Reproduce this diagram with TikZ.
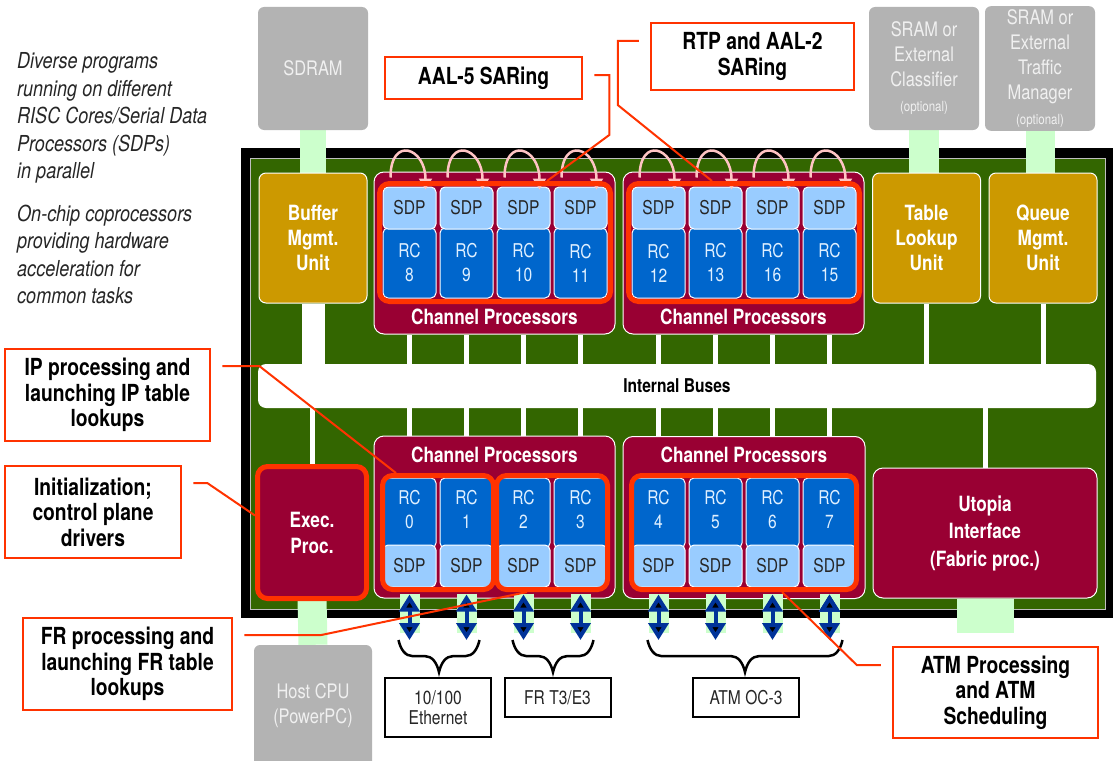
\documentclass[tikz,border=0pt]{standalone}
\usepackage{fontspec}
\setmainfont{TeX Gyre Heros}[FakeStretch=0.82]
\usetikzlibrary{arrows.meta,fit,decorations.pathreplacing}
\definecolor{chip}{HTML}{336600}
\definecolor{cpred}{HTML}{990033}
\definecolor{gold}{HTML}{CC9900}
\definecolor{rcblue}{HTML}{0066CC}
\definecolor{sdpblue}{HTML}{99CCFF}
\definecolor{hl}{HTML}{FF3300}
\definecolor{linkgreen}{HTML}{CCFFCC}
\definecolor{arrowblue}{HTML}{003399}
\definecolor{extgray}{HTML}{B3B3B3}
\definecolor{ringpink}{HTML}{FFC4C4}
\pgfdeclarelayer{bg}
\pgfsetlayers{bg,main}
\tikzstyle{sidetext} = [anchor=west, align=left, inner sep=0pt, text=black!85,
    font=\fontsize{22}{27.5}\selectfont\itshape]
\tikzstyle{extmem} = [rectangle, fill=extgray, rounded corners=6pt, minimum width=110pt,
    minimum height=123pt, text=white!94!black, align=center, font=\fontsize{20}{25}\selectfont]
\tikzstyle{copro} = [rectangle, draw=white, line width=1pt, fill=gold, rounded corners=7pt,
    minimum width=108pt, minimum height=130pt, text=white, align=center,
    font=\fontsize{21}{25}\selectfont\bfseries]
\tikzstyle{procbox} = [rectangle, draw=white, line width=1pt, fill=cpred, rounded corners=10pt,
    text=white, align=center, font=\fontsize{21}{26}\selectfont\bfseries]
\tikzstyle{cptext} = [text=white, inner sep=0pt, font=\fontsize{21}{24}\selectfont\bfseries]
\tikzstyle{rcblock} = [rectangle, draw=white, line width=1pt, fill=rcblue, rounded corners=5pt,
    minimum width=53pt, minimum height=70pt, inner sep=0pt, text=sdpblue!30!white,
    align=center, font=\fontsize{19}{24}\selectfont]
\tikzstyle{rclow} = [rcblock, text depth=8pt]
\tikzstyle{sdpblock} = [rectangle, draw=white, line width=1pt, fill=sdpblue, rounded corners=5pt,
    minimum width=53pt, minimum height=42pt, inner sep=0pt, text=black!85,
    font=\fontsize{19}{24}\selectfont]
\tikzstyle{busbox} = [rectangle, fill=white, rounded corners=8pt, minimum width=838pt,
    minimum height=44pt, font=\fontsize{19}{22}\selectfont\bfseries]
\tikzstyle{hilite} = [rectangle, draw=hl, line width=5pt, rounded corners=10pt, inner sep=3pt]
\tikzstyle{notebox} = [rectangle, draw=hl, line width=2.5pt, fill=white, align=center,
    inner sep=0pt, font=\fontsize{23.5}{25.5}\selectfont\bfseries]
\tikzstyle{leader} = [draw=hl, line width=2pt]
\tikzstyle{portbox} = [rectangle, draw=black, line width=2pt, fill=white, align=center,
    minimum width=106pt, minimum height=39pt, inner sep=0pt, text=black!85,
    font=\fontsize{19}{20}\selectfont]
\tikzstyle{link} = [draw=linkgreen]
\tikzstyle{stub} = [draw=white, line width=5pt]
\tikzstyle{ring} = [draw=ringpink, line width=2.5pt, -{Triangle[width=13pt,length=11pt]}]
\tikzstyle{biarrow} = [draw=arrowblue, line width=4pt,
    {Triangle[width=20pt,length=17pt]}-{Triangle[width=20pt,length=17pt]}]
\tikzstyle{brc} = [draw=black, line width=2.5pt, decorate,
    decoration={brace, mirror, amplitude=14pt, transform={yscale=2.3}}]

\begin{document}
\begin{tikzpicture}[x=1pt,y=-1pt]
  \useasboundingbox (0,0) rectangle (1113,760);

  % notes on the left
  \node[sidetext] (para1) at (17,118) {Diverse programs\\running on different\\RISC Cores/Serial Data\\Processors (SDPs)\\in parallel};
  \node[sidetext] (para2) at (17,254.5) {On-chip coprocessors\\providing hardware\\acceleration for\\common tasks};

  % parts outside the chip
  \node[extmem] (sdram) at (313,68.5) {SDRAM};
  \node[extmem] (sram1) at (924,68.5) {SRAM or\\External\\Classifier\\{\fontsize{14}{16}\selectfont (optional)}};
  \node[extmem] (sram2) at (1040,68.5) {SRAM or\\External\\Traffic\\Manager\\{\fontsize{14}{16}\selectfont (optional)}};
  \node[extmem, minimum width=118pt, minimum height=122pt] (host) at (313,706) {Host CPU\\(PowerPC)};

  % coprocessors
  \node[copro] (bmu) at (313,238) {Buffer\\Mgmt.\\Unit};
  \node[copro] (tlu) at (926.5,238) {Table\\Lookup\\Unit};
  \node[copro] (qmu) at (1043,238) {Queue\\Mgmt.\\Unit};

  % channel processors
  \node[procbox, minimum width=241pt, minimum height=162pt] (cpA) at (494.5,253) {};
  \node[procbox, minimum width=241pt, minimum height=162pt] (cpB) at (743.5,253) {};
  \node[procbox, minimum width=241pt, minimum height=162pt] (cpC) at (494.5,517) {};
  \node[procbox, minimum width=242pt, minimum height=162pt] (cpD) at (744,517.5) {};
  \node[cptext] (cpAt) at (494.5,317) {Channel Processors};
  \node[cptext] (cpBt) at (743.5,317) {Channel Processors};
  \node[cptext] (cpCt) at (494.5,455) {Channel Processors};
  \node[cptext] (cpDt) at (744,455) {Channel Processors};

  \node[procbox, minimum width=108pt, minimum height=131pt] (exec) at (312,532.5) {Exec.\\Proc.};
  \node[procbox, minimum width=224pt, minimum height=130pt, font=\fontsize{21}{27.5}\selectfont\bfseries] (uto) at (985,533) {Utopia\\Interface\\(Fabric proc.)};
  \node[busbox] (bus) at (677,386) {Internal Buses};

  % upper RISC cores
  \node[rcblock] (rc8) at (409.5,263) {RC\\8};
  \node[sdpblock] (sdp8) at (409.5,208) {SDP};
  \node[rcblock] (rc9) at (466.5,263) {RC\\9};
  \node[sdpblock] (sdp9) at (466.5,208) {SDP};
  \node[rcblock] (rc10) at (523.5,263) {RC\\10};
  \node[sdpblock] (sdp10) at (523.5,208) {SDP};
  \node[rcblock] (rc11) at (580.5,263) {RC\\11};
  \node[sdpblock] (sdp11) at (580.5,208) {SDP};
  \node[rcblock] (rc12) at (658.5,263) {RC\\12};
  \node[sdpblock] (sdp12) at (658.5,208) {SDP};
  \node[rcblock] (rc13) at (715.5,263) {RC\\13};
  \node[sdpblock] (sdp13) at (715.5,208) {SDP};
  \node[rcblock] (rc16) at (772.5,263) {RC\\16};
  \node[sdpblock] (sdp16) at (772.5,208) {SDP};
  \node[rcblock] (rc15) at (829.5,263) {RC\\15};
  \node[sdpblock] (sdp15) at (829.5,208) {SDP};

  % lower RISC cores
  \node[rclow] (rc0) at (409.5,513) {RC\\0};
  \node[sdpblock] (sdp0) at (409.5,566) {SDP};
  \node[rclow] (rc1) at (466.5,513) {RC\\1};
  \node[sdpblock] (sdp1) at (466.5,566) {SDP};
  \node[rclow] (rc2) at (523.5,513) {RC\\2};
  \node[sdpblock] (sdp2) at (523.5,566) {SDP};
  \node[rclow] (rc3) at (580.5,513) {RC\\3};
  \node[sdpblock] (sdp3) at (580.5,566) {SDP};
  \node[rclow] (rc4) at (658.5,513) {RC\\4};
  \node[sdpblock] (sdp4) at (658.5,566) {SDP};
  \node[rclow] (rc5) at (715.5,513) {RC\\5};
  \node[sdpblock] (sdp5) at (715.5,566) {SDP};
  \node[rclow] (rc6) at (772.5,513) {RC\\6};
  \node[sdpblock] (sdp6) at (772.5,566) {SDP};
  \node[rclow] (rc7) at (829.5,513) {RC\\7};
  \node[sdpblock] (sdp7) at (829.5,566) {SDP};

  % chip, links and bus stubs
  \coordinate (fab) at (985,633);
  \begin{pgfonlayer}{bg}
    \fill[black] (241,148) rectangle (1113,618);
    \draw[fill=chip, draw=white!75!black, line width=1pt] (250,158) rectangle (1105,609);
    \draw[link, line width=26pt] (sdram.south) -- (bmu.north);
    \draw[link, line width=30pt] (sram1.south) -- (sram1.south |- tlu.north);
    \draw[link, line width=29pt] (sram2.south) -- (sram2.south |- qmu.north);
    \draw[link, line width=29pt] (exec.south) -- (host.north);
    \draw[link, line width=57pt] (uto.south) -- (fab);
    \draw[stub, line width=23pt] (bmu.south) -- (bmu.south |- bus.north);
    \draw[stub] (tlu.south) -- (tlu.south |- bus.north)
                (qmu.south) -- (qmu.south |- bus.north)
                (bus.south -| exec.north) -- (exec.north)
                (bus.south -| uto.north) -- (uto.north);
    \draw[stub] (rc8 |- cpA.south) -- (rc8 |- bus.north)
                (rc9 |- cpA.south) -- (rc9 |- bus.north)
                (rc10 |- cpA.south) -- (rc10 |- bus.north)
                (rc11 |- cpA.south) -- (rc11 |- bus.north)
                (rc12 |- cpB.south) -- (rc12 |- bus.north)
                (rc13 |- cpB.south) -- (rc13 |- bus.north)
                (rc16 |- cpB.south) -- (rc16 |- bus.north)
                (rc15 |- cpB.south) -- (rc15 |- bus.north);
    \draw[stub] (rc0 |- bus.south) -- (rc0 |- cpC.north)
                (rc1 |- bus.south) -- (rc1 |- cpC.north)
                (rc2 |- bus.south) -- (rc2 |- cpC.north)
                (rc3 |- bus.south) -- (rc3 |- cpC.north)
                (rc4 |- bus.south) -- (rc4 |- cpD.north)
                (rc5 |- bus.south) -- (rc5 |- cpD.north)
                (rc6 |- bus.south) -- (rc6 |- cpD.north)
                (rc7 |- bus.south) -- (rc7 |- cpD.north);
  \end{pgfonlayer}

  % serial ports
  \coordinate (p0) at (409.5,640);
  \coordinate (p1) at (466.5,640);
  \coordinate (p2) at (523.5,640);
  \coordinate (p3) at (580.5,640);
  \coordinate (p4) at (658.5,640);
  \coordinate (p5) at (715.5,640);
  \coordinate (p6) at (772.5,640);
  \coordinate (p7) at (829.5,640);
  \draw[link, line width=20pt] ([yshift=-6pt]sdp0.south) -- ([yshift=7pt]p0)
        ([yshift=-6pt]sdp1.south) -- ([yshift=7pt]p1)
        ([yshift=-6pt]sdp2.south) -- ([yshift=7pt]p2)
        ([yshift=-6pt]sdp3.south) -- ([yshift=7pt]p3)
        ([yshift=-6pt]sdp4.south) -- ([yshift=7pt]p4)
        ([yshift=-6pt]sdp5.south) -- ([yshift=7pt]p5)
        ([yshift=-6pt]sdp6.south) -- ([yshift=7pt]p6)
        ([yshift=-6pt]sdp7.south) -- ([yshift=7pt]p7);
  \path[biarrow] ([yshift=-7pt]sdp0.south) edge (p0)
        ([yshift=-7pt]sdp1.south) edge (p1)
        ([yshift=-7pt]sdp2.south) edge (p2)
        ([yshift=-7pt]sdp3.south) edge (p3)
        ([yshift=-7pt]sdp4.south) edge (p4)
        ([yshift=-7pt]sdp5.south) edge (p5)
        ([yshift=-7pt]sdp6.south) edge (p6)
        ([yshift=-7pt]sdp7.south) edge (p7);
  \draw[brc] ([xshift=-11pt]p0) -- ([xshift=13pt]p1);
  \draw[brc] ([xshift=-11pt]p2) -- ([xshift=13pt]p3);
  \draw[brc] ([xshift=-11pt]p4) -- ([xshift=13pt]p7);
  \node[portbox, minimum height=59pt] (eth) at (438,707.5) {10/100\\Ethernet};
  \node[portbox] (frp) at (557.5,697.5) {FR T3/E3};
  \node[portbox] (atm) at (746,697.5) {ATM OC-3};

  % SAR rings
  \draw[ring] ([xshift=-19pt,yshift=9pt]sdp8.north) .. controls +(0,-42) and +(0,-42) .. ([xshift=16pt,yshift=-3pt]sdp8.north);
  \draw[ring] ([xshift=-19pt,yshift=9pt]sdp9.north) .. controls +(0,-42) and +(0,-42) .. ([xshift=16pt,yshift=-3pt]sdp9.north);
  \draw[ring] ([xshift=-19pt,yshift=9pt]sdp10.north) .. controls +(0,-42) and +(0,-42) .. ([xshift=16pt,yshift=-3pt]sdp10.north);
  \draw[ring] ([xshift=-19pt,yshift=9pt]sdp11.north) .. controls +(0,-42) and +(0,-42) .. ([xshift=16pt,yshift=-3pt]sdp11.north);
  \draw[ring] ([xshift=-19pt,yshift=9pt]sdp12.north) .. controls +(0,-42) and +(0,-42) .. ([xshift=16pt,yshift=-3pt]sdp12.north);
  \draw[ring] ([xshift=-19pt,yshift=9pt]sdp13.north) .. controls +(0,-42) and +(0,-42) .. ([xshift=16pt,yshift=-3pt]sdp13.north);
  \draw[ring] ([xshift=-19pt,yshift=9pt]sdp16.north) .. controls +(0,-42) and +(0,-42) .. ([xshift=16pt,yshift=-3pt]sdp16.north);
  \draw[ring] ([xshift=-19pt,yshift=9pt]sdp15.north) .. controls +(0,-42) and +(0,-42) .. ([xshift=16pt,yshift=-3pt]sdp15.north);

  % highlights
  \node[hilite, fit=(sdp8)(rc11)] (hlA) {};
  \node[hilite, fit=(sdp12)(rc15)] (hlB) {};
  \node[hilite, inner xsep=0pt, inner ysep=2pt, fit=(rc0)(sdp1)] (hl01) {};
  \node[hilite, inner xsep=0pt, inner ysep=2pt, fit=(rc2)(sdp3)] (hl23) {};
  \node[hilite, inner xsep=0pt, inner ysep=2pt, fit=(rc4)(sdp7)] (hl47) {};
  \node[hilite, inner sep=0pt, fit=(exec)] (hlX) {};

  % callouts
  \node[notebox, minimum width=197pt, minimum height=42pt] (aal5) at (483.5,78) {AAL-5 SARing};
  \node[notebox, minimum width=203pt, minimum height=67pt] (rtp) at (752.5,56.5) {RTP and AAL-2\\SARing};
  \node[notebox, minimum width=205pt, minimum height=92pt] (ipn) at (107.5,395) {IP processing and\\launching IP table\\lookups};
  \node[notebox, minimum width=176pt, minimum height=92pt] (initn) at (93,512) {Initialization;\\control plane\\drivers};
  \node[notebox, minimum width=209pt, minimum height=92pt] (frn) at (127.5,664) {FR processing and\\launching FR table\\lookups};
  \node[notebox, minimum width=205pt, minimum height=91pt] (atmn) at (995.5,692.5) {ATM Processing\\and ATM\\Scheduling};

  \draw[leader] ([xshift=11pt,yshift=3pt]aal5.east) -- ++(15,0) -- ++(0,60) -- ([xshift=52pt]hlA.north);
  \draw[leader] ([xshift=-11pt,yshift=15.5pt]rtp.west) -- ++(-21,0) -- ++(0,64) -- ([xshift=-32pt]hlB.north);
  \draw[leader] ([xshift=11pt,yshift=29pt]ipn.east) -- ++(37,0) -- ([xshift=-42pt]hl01.north);
  \draw[leader] ([xshift=11pt,yshift=29pt]initn.east) -- ++(14,0) -- ([yshift=17pt]hlX.west);
  \draw[leader] ([xshift=11pt,yshift=29pt]frn.east) -- ++(77,0) -- ([xshift=-25pt]hl23.south);
  \draw[leader] ([xshift=-11pt,yshift=27.5pt]atmn.west) -- ++(-24,0) -- ([xshift=38pt]hl47.south);
\end{tikzpicture}
\end{document}
